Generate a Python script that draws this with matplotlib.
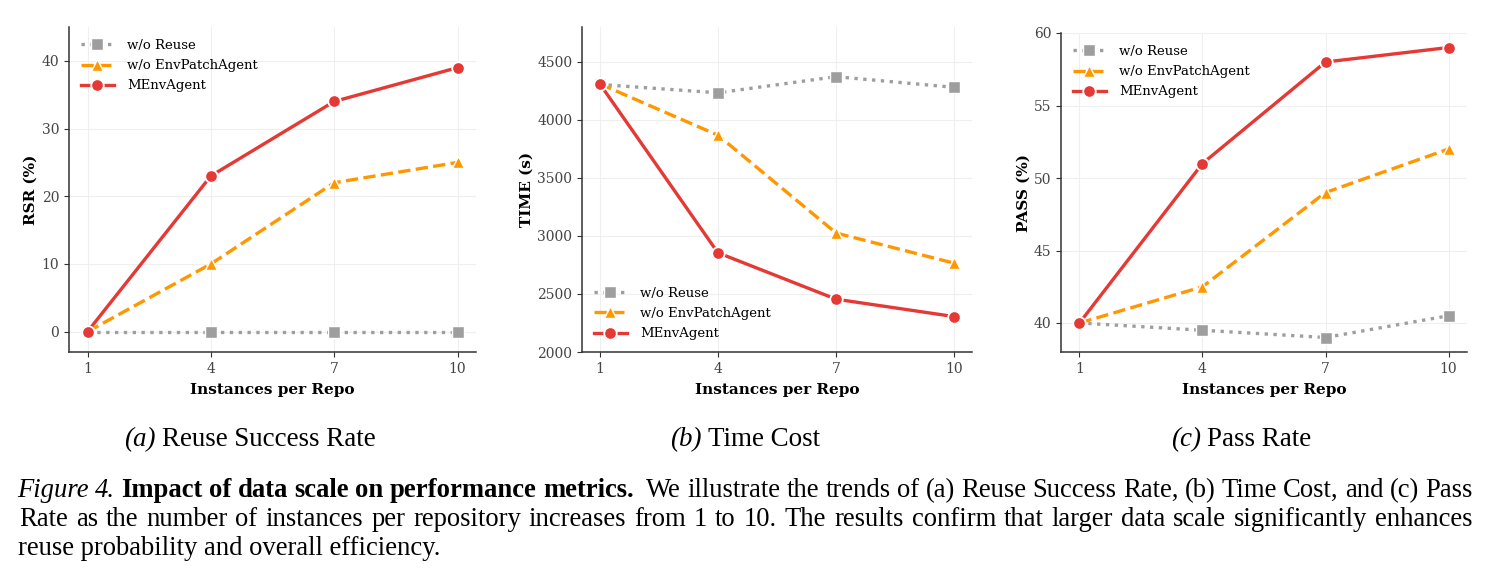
import matplotlib
matplotlib.use("Agg")
import matplotlib.pyplot as plt

plt.rcParams["font.family"] = "DejaVu Serif"

# ---------------- data ----------------
x_vals = [1, 4, 7, 10]
series_names = ["w/o Reuse", "w/o EnvPatchAgent", "MEnvAgent"]

rsr_reuse = [0, 0, 0, 0]
rsr_patch = [0, 10, 22, 25]
rsr_menv = [0, 23, 34, 39]

time_reuse = [4305, 4233, 4372, 4280]
time_patch = [4310, 3868, 3025, 2765]
time_menv = [4311, 2855, 2455, 2305]

pass_reuse = [40, 39.5, 39, 40.5]
pass_patch = [40, 42.5, 49, 52]
pass_menv = [40, 51, 58, 59]

y_labels = ["RSR (%)", "TIME (s)", "PASS (%)"]
x_label = "Instances per Repo"
sub_captions = [("(a)", "Reuse Success Rate"), ("(b)", "Time Cost"), ("(c)", "Pass Rate")]

# ---------------- figure ----------------
W, H = 1491, 579
fig = plt.figure(figsize=(W / 100, H / 100), dpi=100)

def px_axes(l, r, t, b):
    return [l / W, 1 - b / H, (r - l) / W, (b - t) / H]

axes_px = [(69, 476, 27, 352), (582, 972, 27, 352), (1061, 1467, 33, 352)]
ylims = [(-3, 45), (2000, 4800), (38, 60)]
yticks = [[0, 10, 20, 30, 40], [2000, 2500, 3000, 3500, 4000, 4500], [40, 45, 50, 55, 60]]
ylabel_x = [-0.076, -0.123, -0.074]
legend_loc = ["upper left", "lower left", "upper left"]
data = [(rsr_reuse, rsr_patch, rsr_menv), (time_reuse, time_patch, time_menv),
        (pass_reuse, pass_patch, pass_menv)]

c_gray = "#9E9E9E"
c_orange = "#FF9800"
c_red = "#E53935"

for i in range(3):
    ax = fig.add_axes(px_axes(*axes_px[i]))
    reuse, patch, menv = data[i]
    ax.plot(x_vals, reuse, color=c_gray, linestyle=":", linewidth=2.4, marker="s",
            markersize=8, markeredgecolor="white", markeredgewidth=1.0, label=series_names[0], zorder=3)
    ax.plot(x_vals, patch, color=c_orange, linestyle="--", linewidth=2.4, marker="^",
            markersize=8, markeredgecolor="white", markeredgewidth=1.0, label=series_names[1], zorder=4)
    ax.plot(x_vals, menv, color=c_red, linestyle="-", linewidth=2.4, marker="o",
            markersize=9, markeredgecolor="white", markeredgewidth=1.3, label=series_names[2], zorder=5)
    ax.set_xlim(0.55, 10.45)
    ax.set_ylim(*ylims[i])
    ax.set_xticks(x_vals)
    ax.set_yticks(yticks[i])
    ax.tick_params(axis="both", labelsize=10, colors="#333333", labelcolor="#444444",
                   length=3.5, width=0.8)
    ax.grid(True, color="#EFEFEF", linewidth=0.8)
    ax.set_axisbelow(True)
    for s in ["top", "right"]:
        ax.spines[s].set_visible(False)
    for s in ["left", "bottom"]:
        ax.spines[s].set_color("#333333")
        ax.spines[s].set_linewidth(1.1)
    ax.set_ylabel(y_labels[i], fontsize=11, fontweight="bold")
    ax.set_xlabel(x_label, fontsize=11, fontweight="bold")
    ax.yaxis.set_label_coords(ylabel_x[i], 0.5)
    h_ax = axes_px[i][3] - axes_px[i][2]
    ax.xaxis.set_label_coords(0.5, -31 / h_ax)
    ax.legend(loc=legend_loc[i], frameon=False, fontsize=9.5, handlelength=2.5,
              handletextpad=1.0, labelspacing=0.55)

# ---------------- captions ----------------
renderer = fig.canvas.get_renderer()
SERIF = ["Liberation Serif", "DejaVu Serif"]

def text_width(s, size, style="normal", weight="normal"):
    t = fig.text(0, 0, s, fontsize=size, family=SERIF, style=style, fontweight=weight)
    w = t.get_window_extent(renderer).width
    t.remove()
    return w

def put(x_px, base_px, s, size, style="normal", weight="normal"):
    fig.text(x_px / W, 1 - base_px / H, s, fontsize=size, family=SERIF, style=style,
             fontweight=weight, va="baseline", ha="left", color="black")

# sub captions (fit width of "(a) Reuse Success Rate" to ~251 px)
lab0, rest0 = sub_captions[0]
w_ref = text_width(lab0 + " " + rest0, 10)
sub_size = 10 * 251 / w_ref
sub_centers = [250, 745, 1241]
for (lab, rest), cx in zip(sub_captions, sub_centers):
    w1 = text_width(lab, sub_size, style="italic")
    w2 = text_width(rest, sub_size)
    sp = text_width("a a", sub_size) - text_width("aa", sub_size)
    total = w1 + sp + w2
    x0 = cx - total / 2
    put(x0, 446, lab, sub_size, style="italic")
    put(x0 + w1 + sp, 446, rest, sub_size)

line2 = ("Rate as the number of instances per repository increases from 1 to 10. "
         "The results confirm that larger data scale significantly enhances")
cap_size = 10 * 1430 / text_width(line2, 10)

def justify(words, x0, x1, base, extra_gap_after=None):
    widths = [text_width(w, cap_size, st, wt) for (w, st, wt) in words]
    n_gaps = len(words) - 1
    weights = [1.0] * n_gaps
    if extra_gap_after is not None:
        weights[extra_gap_after] = 2.0
    gap = (x1 - x0 - sum(widths)) / sum(weights)
    x = x0
    for k, ((w, st, wt), wd) in enumerate(zip(words, widths)):
        put(x, base, w, cap_size, st, wt)
        if k < n_gaps:
            x += wd + gap * weights[k]

line1 = [("Figure", "italic", "normal"), ("4.", "italic", "normal")]
bold_part = "Impact of data scale on performance metrics."
line1 += [(w, "normal", "bold") for w in bold_part.split()]
idx_extra = len(line1) - 1
reg1 = "We illustrate the trends of (a) Reuse Success Rate, (b) Time Cost, and (c) Pass"
line1 += [(w, "normal", "normal") for w in reg1.split()]
justify(line1, 17, 1473, 497, extra_gap_after=idx_extra)

justify([(w, "normal", "normal") for w in line2.split()], 19, 1473, 526)

line3 = "reuse probability and overall efficiency."
put(18, 555, line3, cap_size)

fig.savefig("out.png", dpi=100)
